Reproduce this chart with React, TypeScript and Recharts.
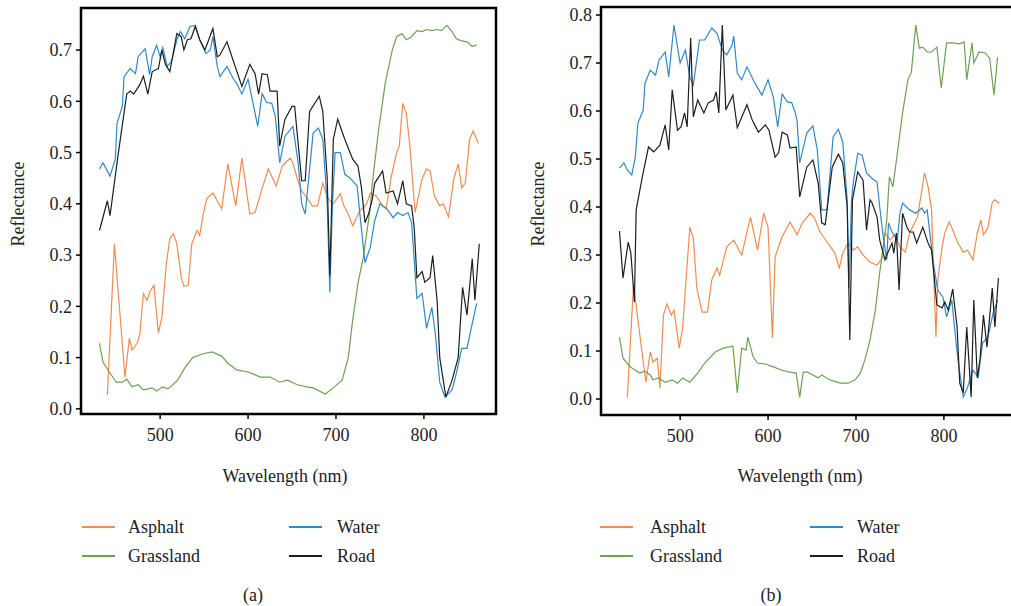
import React from 'react';
import { LineChart, Line, XAxis, YAxis, ReferenceArea } from 'recharts';

// [wavelength nm, reflectance]
const asphaltA: [number, number][] = [[440,0.027],[448,0.322],[460,0.062],[465,0.138],[468,0.115],[474,0.128],[477,0.147],[481,0.225],[485,0.212],[489,0.231],[493,0.241],[498,0.148],[502,0.179],[507,0.283],[511,0.332],[515,0.342],[519,0.322],[524,0.256],[527,0.239],[532,0.241],[536,0.322],[542,0.348],[545,0.338],[549,0.38],[553,0.41],[560,0.421],[570,0.39],[577,0.478],[586,0.396],[593,0.489],[602,0.38],[608,0.383],[616,0.43],[623,0.468],[632,0.435],[639,0.474],[648,0.489],[651,0.48],[656,0.449],[661,0.425],[667,0.412],[673,0.396],[679,0.396],[685,0.44],[691,0.41],[697,0.40],[705,0.42],[709,0.396],[714,0.38],[719,0.357],[727,0.386],[735,0.40],[739,0.421],[746,0.415],[753,0.396],[757,0.39],[763,0.454],[769,0.5],[772,0.513],[776,0.596],[780,0.577],[784,0.513],[790,0.383],[792,0.40],[798,0.449],[803,0.468],[807,0.464],[812,0.415],[818,0.396],[822,0.40],[828,0.375],[834,0.449],[839,0.478],[843,0.431],[847,0.44],[852,0.526],[856,0.542],[862,0.518]];
const grassA: [number, number][] = [[431,0.128],[435,0.091],[443,0.07],[450,0.052],[457,0.052],[462,0.058],[468,0.043],[475,0.047],[481,0.037],[491,0.041],[496,0.035],[503,0.043],[509,0.039],[520,0.056],[528,0.08],[537,0.10],[548,0.107],[559,0.111],[570,0.103],[577,0.089],[587,0.076],[600,0.072],[614,0.062],[625,0.062],[636,0.052],[645,0.056],[656,0.047],[667,0.043],[674,0.041],[688,0.029],[697,0.041],[707,0.056],[714,0.10],[719,0.173],[725,0.245],[731,0.295],[739,0.392],[741,0.435],[748,0.538],[756,0.635],[764,0.70],[769,0.726],[775,0.732],[780,0.72],[786,0.726],[792,0.738],[798,0.736],[803,0.74],[809,0.738],[815,0.74],[820,0.738],[826,0.748],[832,0.736],[837,0.722],[843,0.718],[849,0.716],[855,0.707],[860,0.71]];
const waterA: [number, number][] = [[431,0.468],[435,0.48],[443,0.454],[449,0.487],[451,0.557],[457,0.59],[459,0.648],[466,0.664],[472,0.654],[475,0.687],[483,0.703],[488,0.652],[491,0.687],[496,0.709],[500,0.687],[503,0.705],[508,0.668],[513,0.678],[519,0.72],[523,0.736],[528,0.722],[534,0.746],[540,0.748],[545,0.72],[552,0.693],[557,0.70],[560,0.726],[565,0.668],[568,0.648],[576,0.668],[583,0.645],[587,0.635],[593,0.614],[600,0.643],[604,0.61],[611,0.551],[616,0.615],[621,0.598],[627,0.596],[631,0.571],[636,0.48],[642,0.532],[651,0.551],[657,0.48],[661,0.40],[665,0.38],[674,0.538],[680,0.548],[685,0.526],[690,0.40],[693,0.227],[696,0.40],[699,0.5],[705,0.5],[710,0.458],[716,0.45],[724,0.435],[727,0.383],[733,0.285],[739,0.315],[744,0.367],[750,0.40],[758,0.39],[765,0.373],[770,0.383],[776,0.377],[782,0.383],[786,0.363],[792,0.216],[798,0.225],[803,0.157],[809,0.198],[813,0.147],[818,0.052],[824,0.023],[832,0.037],[837,0.07],[843,0.118],[849,0.118],[855,0.167],[860,0.206]];
const roadA: [number, number][] = [[431,0.348],[440,0.406],[443,0.377],[452,0.493],[462,0.614],[466,0.62],[470,0.614],[477,0.633],[481,0.649],[486,0.614],[491,0.658],[498,0.664],[502,0.70],[506,0.672],[511,0.658],[519,0.732],[524,0.726],[527,0.70],[531,0.72],[535,0.722],[540,0.746],[545,0.72],[551,0.70],[560,0.742],[565,0.687],[568,0.69],[576,0.716],[583,0.68],[593,0.629],[602,0.672],[608,0.654],[612,0.614],[616,0.654],[622,0.652],[625,0.62],[633,0.62],[636,0.513],[642,0.565],[650,0.59],[653,0.59],[661,0.445],[665,0.445],[670,0.58],[681,0.61],[685,0.58],[690,0.45],[693,0.26],[697,0.526],[702,0.565],[710,0.526],[719,0.487],[725,0.474],[729,0.431],[733,0.363],[737,0.38],[741,0.406],[744,0.44],[753,0.464],[757,0.421],[765,0.425],[770,0.40],[776,0.445],[780,0.40],[786,0.396],[789,0.353],[792,0.256],[798,0.268],[801,0.247],[807,0.256],[810,0.299],[815,0.212],[818,0.10],[825,0.023],[832,0.056],[839,0.10],[844,0.237],[849,0.183],[855,0.293],[858,0.212],[863,0.322]];

const asphaltB: [number, number][] = [[440,0.004],[447,0.238],[461,0.035],[466,0.098],[469,0.077],[474,0.085],[477,0.023],[481,0.175],[485,0.198],[490,0.175],[493,0.185],[499,0.106],[503,0.15],[511,0.358],[515,0.335],[519,0.231],[525,0.181],[531,0.181],[536,0.248],[542,0.273],[545,0.258],[553,0.317],[561,0.331],[570,0.30],[580,0.379],[588,0.31],[595,0.387],[600,0.358],[605,0.127],[608,0.296],[616,0.338],[625,0.369],[633,0.342],[639,0.367],[648,0.387],[653,0.377],[659,0.348],[668,0.325],[676,0.304],[681,0.273],[685,0.304],[691,0.325],[697,0.31],[702,0.317],[708,0.30],[716,0.285],[724,0.279],[730,0.294],[733,0.346],[739,0.331],[744,0.342],[750,0.317],[756,0.306],[761,0.346],[770,0.379],[778,0.471],[782,0.442],[786,0.394],[788,0.275],[791,0.129],[793,0.248],[798,0.317],[801,0.346],[806,0.369],[810,0.352],[816,0.325],[822,0.306],[827,0.31],[833,0.29],[838,0.346],[842,0.373],[845,0.342],[850,0.356],[855,0.41],[858,0.415],[863,0.408]];
const grassB: [number, number][] = [[431,0.129],[435,0.085],[443,0.067],[449,0.06],[454,0.054],[460,0.058],[466,0.05],[469,0.04],[475,0.044],[483,0.035],[491,0.04],[497,0.033],[503,0.044],[511,0.035],[520,0.054],[528,0.075],[540,0.098],[549,0.106],[560,0.11],[565,0.013],[570,0.106],[575,0.102],[577,0.129],[583,0.088],[588,0.075],[597,0.073],[606,0.067],[616,0.06],[625,0.056],[632,0.054],[636,0.004],[640,0.056],[645,0.056],[651,0.05],[657,0.044],[661,0.05],[670,0.04],[682,0.033],[691,0.033],[699,0.04],[705,0.054],[710,0.081],[716,0.123],[722,0.185],[727,0.263],[731,0.317],[735,0.373],[738,0.463],[742,0.442],[748,0.525],[753,0.596],[759,0.665],[763,0.681],[768,0.779],[772,0.731],[776,0.733],[781,0.723],[786,0.723],[792,0.733],[797,0.648],[803,0.742],[810,0.742],[818,0.74],[823,0.744],[826,0.665],[832,0.742],[834,0.70],[840,0.723],[847,0.721],[852,0.71],[857,0.633],[861,0.712]];
const waterB: [number, number][] = [[431,0.481],[436,0.492],[440,0.477],[445,0.467],[449,0.504],[452,0.575],[458,0.602],[460,0.658],[466,0.685],[472,0.675],[476,0.706],[483,0.723],[487,0.671],[493,0.779],[500,0.70],[506,0.727],[511,0.671],[515,0.654],[522,0.748],[528,0.748],[536,0.773],[542,0.762],[548,0.727],[553,0.717],[559,0.737],[561,0.756],[565,0.679],[570,0.665],[576,0.692],[585,0.658],[593,0.633],[600,0.665],[606,0.629],[611,0.567],[616,0.635],[622,0.619],[627,0.617],[631,0.596],[633,0.581],[636,0.492],[644,0.554],[651,0.569],[656,0.519],[661,0.394],[667,0.394],[674,0.546],[680,0.562],[685,0.535],[690,0.415],[692,0.231],[695,0.415],[697,0.452],[702,0.512],[707,0.508],[712,0.471],[718,0.46],[724,0.452],[727,0.40],[731,0.337],[735,0.29],[737,0.367],[741,0.348],[747,0.331],[750,0.387],[753,0.408],[761,0.394],[768,0.387],[775,0.398],[778,0.387],[781,0.394],[784,0.346],[788,0.283],[793,0.227],[799,0.212],[803,0.171],[809,0.206],[812,0.15],[816,0.081],[822,0.004],[827,0.025],[833,0.06],[839,0.046],[844,0.117],[850,0.129],[856,0.179],[861,0.206]];
const roadB: [number, number][] = [[431,0.35],[435,0.252],[441,0.327],[444,0.304],[448,0.202],[450,0.394],[457,0.463],[464,0.525],[470,0.515],[477,0.529],[483,0.571],[487,0.519],[491,0.644],[497,0.56],[501,0.567],[505,0.596],[508,0.567],[512,0.752],[515,0.588],[520,0.623],[527,0.596],[532,0.617],[538,0.623],[541,0.64],[544,0.596],[548,0.779],[552,0.602],[560,0.633],[565,0.565],[576,0.613],[582,0.581],[589,0.556],[597,0.571],[601,0.56],[608,0.504],[612,0.513],[616,0.556],[622,0.55],[625,0.523],[632,0.525],[636,0.421],[644,0.483],[651,0.498],[657,0.45],[661,0.367],[665,0.363],[673,0.483],[680,0.51],[685,0.492],[690,0.40],[693,0.123],[696,0.415],[702,0.473],[708,0.456],[712,0.352],[716,0.415],[718,0.41],[724,0.379],[727,0.331],[733,0.29],[736,0.304],[741,0.325],[743,0.304],[746,0.346],[749,0.227],[753,0.387],[758,0.358],[761,0.348],[765,0.348],[769,0.325],[776,0.358],[782,0.325],[786,0.31],[792,0.196],[798,0.19],[801,0.202],[805,0.185],[810,0.229],[815,0.15],[818,0.033],[822,0.013],[826,0.15],[831,0.004],[834,0.206],[838,0.044],[841,0.081],[845,0.175],[849,0.108],[855,0.231],[858,0.15],[862,0.252]];

const seriesNames = ['Asphalt', 'Grassland', 'Water', 'Road'];
const colors: Record<string, string> = {
  Asphalt: '#ee8d52',
  Grassland: '#6fa052',
  Water: '#3189c6',
  Road: '#1e1e1e',
};
const xTicks = [500, 600, 700, 800];
const yTicksA = [0, 0.1, 0.2, 0.3, 0.4, 0.5, 0.6, 0.7];
const yTicksB = [0, 0.1, 0.2, 0.3, 0.4, 0.5, 0.6, 0.7, 0.8];

const FONT = "'Liberation Serif', 'DejaVu Serif', serif";
const TEXT = '#222';
const X_DOMAIN: [number, number] = [410, 882];

const toRows = (pts: [number, number][]) => pts.map(([nm, r]) => ({ nm, r }));

interface PanelProps {
  left: number;
  top: number;
  height: number;
  yDomain: [number, number];
  yTicks: number[];
  series: Record<string, [number, number][]>;
}

const Panel: React.FC<PanelProps> = ({ left, top, height, yDomain, yTicks, series }) => (
  <div style={{ position: 'absolute', left, top: 0 }}>
    <LineChart width={506} height={height} margin={{ top, right: 10, bottom: 0, left: 0 }}>
      <XAxis
        type="number"
        dataKey="nm"
        domain={X_DOMAIN}
        ticks={xTicks}
        allowDataOverflow
        axisLine={false}
        tickLine={{ stroke: '#000', strokeWidth: 1.5 }}
        tickSize={5}
        tickMargin={9}
        height={40}
        tick={{ fill: TEXT, fontSize: 18, fontFamily: FONT }}
      />
      <YAxis
        type="number"
        domain={yDomain}
        ticks={yTicks}
        allowDataOverflow
        axisLine={false}
        tickLine={{ stroke: '#000', strokeWidth: 1.5 }}
        tickSize={5}
        tickMargin={4}
        width={81}
        tickFormatter={(v: number) => v.toFixed(1)}
        tick={{ fill: TEXT, fontSize: 18, fontFamily: FONT }}
      />
      {seriesNames.map((name) => (
        <Line
          key={name}
          data={toRows(series[name])}
          dataKey="r"
          type="linear"
          stroke={colors[name]}
          strokeWidth={1.2}
          dot={false}
          isAnimationActive={false}
        />
      ))}
      <ReferenceArea
        x1={X_DOMAIN[0]}
        x2={X_DOMAIN[1]}
        y1={yDomain[0]}
        y2={yDomain[1]}
        fill="none"
        fillOpacity={0}
        stroke="#000"
        strokeWidth={2.5}
        ifOverflow="visible"
      />
    </LineChart>
  </div>
);

const Label: React.FC<{ x: number; y: number; text: string; rotate?: boolean; align?: 'left' | 'center' }> = ({ x, y, text, rotate, align = 'center' }) => (
  <div
    style={{
      position: 'absolute',
      left: x,
      top: y,
      transform: `${align === 'center' ? 'translate(-50%, -50%)' : 'translate(0, -50%)'}${rotate ? ' rotate(-90deg)' : ''}`,
      fontFamily: FONT,
      fontSize: 18,
      color: TEXT,
      whiteSpace: 'nowrap',
      lineHeight: 1,
    }}
  >
    {text}
  </div>
);

const LegendLine: React.FC<{ x1: number; x2: number; y: number; color: string }> = ({ x1, x2, y, color }) => (
  <div style={{ position: 'absolute', left: x1, top: y - 1, width: x2 - x1, height: 2, background: color }} />
);

const Legend2x2: React.FC<{ lineX: number; textX: number; lineX2: number; textX2: number }> = ({ lineX, textX, lineX2, textX2 }) => (
  <>
    <LegendLine x1={lineX} x2={lineX + 33} y={527} color={colors.Asphalt} />
    <Label x={textX} y={527} text="Asphalt" align="left" />
    <LegendLine x1={lineX} x2={lineX + 33} y={556} color={colors.Grassland} />
    <Label x={textX} y={556} text="Grassland" align="left" />
    <LegendLine x1={lineX2} x2={lineX2 + 33} y={527} color={colors.Water} />
    <Label x={textX2} y={527} text="Water" align="left" />
    <LegendLine x1={lineX2} x2={lineX2 + 33} y={556} color={colors.Road} />
    <Label x={textX2} y={556} text="Road" align="left" />
  </>
);

export default function App() {
  const seriesA = { Asphalt: asphaltA, Grassland: grassA, Water: waterA, Road: roadA };
  const seriesB = { Asphalt: asphaltB, Grassland: grassB, Water: waterB, Road: roadB };
  return (
    <div style={{ position: 'absolute', left: 0, top: 0, width: 1011, height: 606, overflow: 'hidden', background: '#fff' }}>
      <Panel left={0} top={8} height={454} yDomain={[-0.01, 0.782]} yTicks={yTicksA} series={seriesA} />
      <Panel left={520} top={7} height={455} yDomain={[-0.0333, 0.8167]} yTicks={yTicksB} series={seriesB} />

      <Label x={285} y={476} text="Wavelength (nm)" />
      <Label x={800} y={476} text="Wavelength (nm)" />
      <Label x={18} y={204} text="Reflectance" rotate />
      <Label x={538} y={204} text="Reflectance" rotate />

      <Legend2x2 lineX={82} textX={128} lineX2={289} textX2={337} />
      <Legend2x2 lineX={600} textX={650} lineX2={810} textX2={857} />

      <Label x={253} y={595} text="(a)" />
      <Label x={771} y={595} text="(b)" />
    </div>
  );
}
